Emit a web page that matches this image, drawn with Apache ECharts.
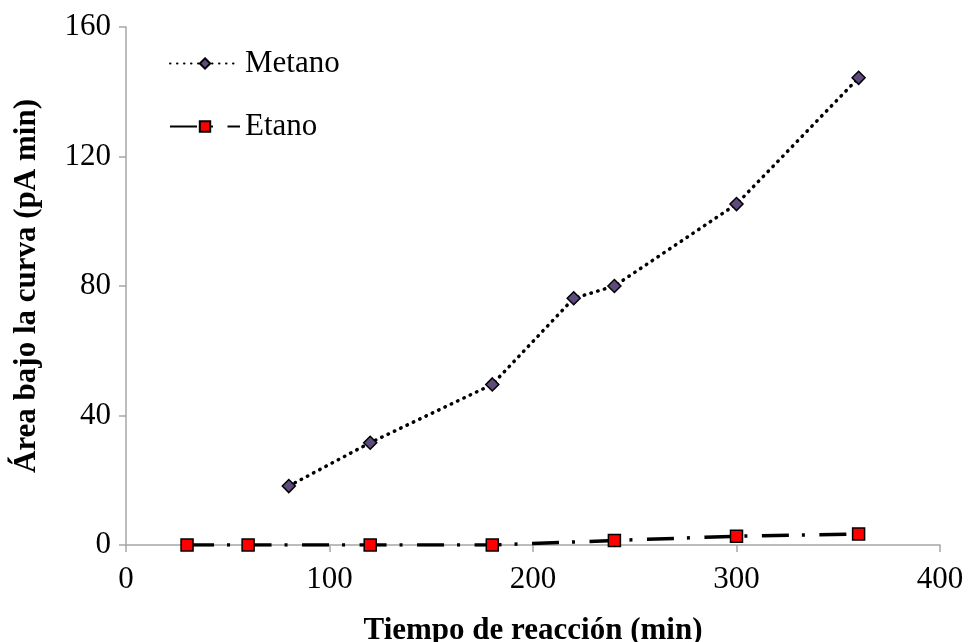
<!DOCTYPE html>
<html>
<head>
<meta charset="utf-8">
<script src="https://cdn.jsdelivr.net/npm/echarts@6/dist/echarts.min.js"></script>
<style>
  html, body { margin: 0; padding: 0; background: #fff; }
  #chart { width: 968px; height: 642px; }
</style>
</head>
<body>
<div id="chart"></div>
<script>
// Reaction time (min) and integrated peak area (pA min) per gas
const metanoTime = [80, 120, 180, 220, 240, 300, 360];
const metanoArea = [18.2, 31.6, 49.6, 76.2, 80.0, 105.3, 144.3];
const etanoTime = [30, 60, 120, 180, 240, 300, 360];
const etanoArea = [0, 0, 0, 0, 1.4, 2.7, 3.4];
const xTicks = [0, 100, 200, 300, 400];
const yTicks = [0, 40, 80, 120, 160];

const FONT = 'Liberation Serif';
const pair = (xs, ys) => xs.map((x, i) => [x, ys[i]]);

const chart = echarts.init(document.getElementById('chart'), null, { renderer: 'canvas' });
chart.setOption({
  animation: false,
  backgroundColor: '#ffffff',
  grid: {
    left: 126, right: 28, top: 27, bottom: 97,
    containLabel: false,
    outerBoundsMode: 'none'
  },
  legend: {
    orient: 'vertical',
    left: 164,
    top: 43,
    itemWidth: 70,
    itemHeight: 13,
    itemGap: 32,
    textStyle: { fontFamily: FONT, fontSize: 31, color: '#000' },
    data: ['Metano', 'Etano']
  },
  xAxis: {
    type: 'value',
    min: xTicks[0],
    max: xTicks[xTicks.length - 1],
    interval: 100,
    name: 'Tiempo de reacción (min)',
    nameLocation: 'middle',
    nameGap: 70,
    nameTextStyle: { fontFamily: FONT, fontSize: 31, fontWeight: 'bold', color: '#000' },
    axisLine: { lineStyle: { color: '#a6a6a6', width: 1.5 } },
    axisTick: { show: true, length: 7, lineStyle: { color: '#a6a6a6', width: 1.5 } },
    axisLabel: { fontFamily: FONT, fontSize: 31, color: '#000', margin: 19 },
    splitLine: { show: false }
  },
  yAxis: {
    type: 'value',
    min: yTicks[0],
    max: yTicks[yTicks.length - 1],
    interval: 40,
    name: 'Área bajo la curva (pA min)',
    nameLocation: 'middle',
    nameGap: 84,
    nameTextStyle: { fontFamily: FONT, fontSize: 31, fontWeight: 'bold', color: '#000' },
    axisLine: { show: true, lineStyle: { color: '#a6a6a6', width: 1.5 } },
    axisTick: { show: true, length: 7, lineStyle: { color: '#a6a6a6', width: 1.5 } },
    axisLabel: { fontFamily: FONT, fontSize: 31, color: '#000', margin: 15 },
    splitLine: { show: false }
  },
  series: [
    {
      name: 'Metano',
      type: 'line',
      data: pair(metanoTime, metanoArea),
      symbol: 'diamond',
      symbolSize: [13, 13],
      itemStyle: { color: '#5f4a7e', borderColor: '#000', borderWidth: 1.5 },
      lineStyle: { color: '#000', width: 3.5, type: [0.5, 6.5], cap: 'round' },
      z: 3
    },
    {
      name: 'Etano',
      type: 'line',
      data: pair(etanoTime, etanoArea),
      symbol: 'rect',
      symbolSize: [12, 12],
      itemStyle: { color: '#ff0000', borderColor: '#000', borderWidth: 1.5 },
      lineStyle: { color: '#000', width: 3.5, type: [27, 13, 3, 14.5] },
      z: 4
    }
  ]
});
</script>
</body>
</html>
